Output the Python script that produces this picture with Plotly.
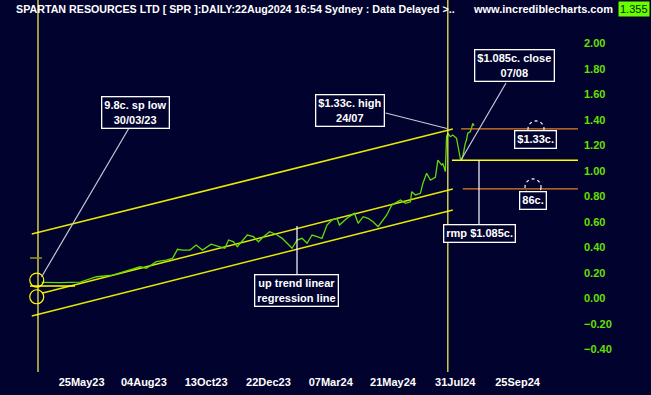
import plotly.graph_objects as go

# ---------------- data ----------------
# trading-bar index (0 = 30/03/23) and daily close (A$)
bar_index = [3, 18, 34, 47, 60, 74, 82, 87, 95, 103, 108, 112, 116, 122, 127, 132,
             139, 146, 150, 153, 157, 160, 168, 173, 177, 181, 186, 192, 196, 200,
             204, 208, 212, 216, 220, 224, 228, 232, 236, 240, 242, 248, 252, 254,
             257, 261, 265, 269, 273, 276, 280, 284, 288, 291, 295, 299, 300, 303,
             307, 309, 312, 315, 319, 321, 324, 325, 327, 328, 329, 331, 333, 336,
             337, 339, 340, 341, 343, 344, 345, 347, 348, 349, 350]
close = [0.127, 0.125, 0.129, 0.171, 0.184, 0.224, 0.249, 0.237, 0.289, 0.302, 0.315,
         0.386, 0.380, 0.380, 0.420, 0.380, 0.427, 0.406, 0.394, 0.459, 0.445, 0.406,
         0.498, 0.485, 0.445, 0.485, 0.524, 0.498, 0.472, 0.433, 0.394, 0.459, 0.472,
         0.433, 0.498, 0.485, 0.472, 0.576, 0.616, 0.629, 0.576, 0.629, 0.655, 0.668,
         0.590, 0.642, 0.629, 0.602, 0.563, 0.602, 0.655, 0.733, 0.759, 0.773, 0.747,
         0.759, 0.838, 0.812, 0.825, 0.904, 0.982, 0.929, 0.951, 1.086, 1.047, 1.060,
         0.995, 1.269, 1.296, 1.269, 1.282, 1.256, 1.204, 1.100, 1.086, 1.112, 1.217,
         1.243, 1.296, 1.308, 1.335, 1.374, 1.355]

tick_index = [35, 85, 135, 185, 235, 285, 335, 385]
tick_labels = ["25May23", "04Aug23", "13Oct23", "22Dec23", "07Mar24", "21May24", "31Jul24", "25Sep24"]
y_ticks = [-0.4, -0.2, 0.0, 0.2, 0.4, 0.6, 0.8, 1.0, 1.2, 1.4, 1.6, 1.8, 2.0]

# regression channel (bar index, value)
chan_x = [-5, 333]
chan_upper = [0.506, 1.329]
mid_x = [3, 333]
chan_mid = [0.041, 0.859]
chan_lower = [-0.137, 0.694]

sp_low = 0.098
high_level = 1.33
rmp_level = 1.085
support_level = 0.86
last_price = "1.355"
marker_bars = [0, 329]

# ---------------- layout helpers ----------------
W, H = 651, 395
PL, PR, PT, PB = 0, 578, 0, 372          # plot area in pixels
X0, X1 = -30.5, 433.5                      # bar index range
Y0, Y1 = -0.576, 2.341                     # value range


def px(x):
    return (x - PL) / (PR - PL)


def py(y):
    return (PB - y) / (PB - PT)


BG = "#02022e"
GREEN = "#66e000"
FONT = "Liberation Sans"

fig = go.Figure()

# channel lines
for xs, ys in [(chan_x, chan_upper), (mid_x, chan_mid), (chan_x, chan_lower)]:
    fig.add_trace(go.Scatter(x=xs, y=ys, mode="lines",
                             line=dict(color="#e8e800", width=1.5), hoverinfo="skip"))

# price
fig.add_trace(go.Scatter(x=bar_index, y=close, mode="lines",
                         line=dict(color="#62dc00", width=1.3), hoverinfo="skip"))

shapes = []
# vertical date markers (span whole height, incl. title strip)
for b in marker_bars:
    shapes.append(dict(type="line", xref="x", yref="paper", x0=b, x1=b, y0=0, y1=1.0,
                       line=dict(color="#ffff50", width=1.2)))
# horizontal levels
shapes.append(dict(type="line", xref="x", yref="y", x0=339.6, x1=X1, y0=high_level, y1=high_level,
                   line=dict(color="#e08020", width=1.3)))
shapes.append(dict(type="line", xref="x", yref="y", x0=332.3, x1=X1, y0=rmp_level, y1=rmp_level,
                   line=dict(color="#ffff00", width=1.5)))
shapes.append(dict(type="line", xref="x", yref="y", x0=341, x1=X1, y0=support_level, y1=support_level,
                   line=dict(color="#e08020", width=1.3)))
shapes.append(dict(type="line", xref="x", yref="y", x0=-6.4, x1=29.7, y0=sp_low, y1=sp_low,
                   line=dict(color="#ffff00", width=1.5)))
shapes.append(dict(type="line", xref="x", yref="y", x0=-6.4, x1=3.2, y0=0.318, y1=0.318,
                   line=dict(color="#9a9a20", width=1.5)))

# yellow circles at the low
for cy in [0.145, 0.014]:
    shapes.append(dict(type="circle", xref="x", yref="y", xsizemode="pixel", ysizemode="pixel",
                       xanchor=-1, yanchor=cy, x0=-7, x1=7, y0=-7, y1=7,
                       line=dict(color="#ffff00", width=1.2)))
# dashed white circles
for cx, cy in [(399.8, high_level), (397.4, 0.875)]:
    shapes.append(dict(type="circle", xref="x", yref="y", xsizemode="pixel", ysizemode="pixel",
                       xanchor=cx, yanchor=cy, x0=-8, x1=8, y0=-8, y1=8,
                       line=dict(color="#ffffff", width=1.2, dash="3px,3px")))

# leader lines (pixel positions converted to paper)
leaders = [((129, 128), (41.5, 277), "#c8c8d8"),
           ((385.7, 113), (447, 128.5), "#c8c8d8"),
           ((506, 83), (461, 160), "#c8c8d8"),
           ((479, 160), (479, 225), "#ffffff"),
           ((297, 226), (297, 274), "#ffffff")]
for (xa, ya), (xb, yb), col in leaders:
    shapes.append(dict(type="line", xref="paper", yref="paper",
                       x0=px(xa), y0=py(ya), x1=px(xb), y1=py(yb),
                       line=dict(color=col, width=1.2)))

annotations = []
boxes = [("9.8c. sp low<br>30/03/23", 135, 112.5),
         ("$1.33c. high<br>24/07", 350, 111),
         ("$1.085c. close<br>07/08", 514.5, 66),
         ("$1.33c.", 535, 139.5),
         ("86c.", 533, 200),
         ("rmp $1.085c.", 479.5, 233.5),
         ("up trend linear<br>regression line", 296.5, 290.5)]
for txt, cx, cy in boxes:
    annotations.append(dict(text=txt, xref="paper", yref="paper", x=px(cx), y=py(cy),
                            xanchor="center", yanchor="middle", showarrow=False,
                            font=dict(family=FONT, size=11, color="white", weight="bold"),
                            bgcolor=BG, bordercolor="white", borderwidth=1.3, borderpad=2,
                            align="center"))

# title strip texts
annotations.append(dict(text="SPARTAN RESOURCES LTD [ SPR ]:DAILY:22Aug2024 16:54 Sydney : Data Delayed >..",
                        xref="paper", yref="paper", x=px(14), y=py(9), xanchor="left", yanchor="middle",
                        showarrow=False, font=dict(family=FONT, size=10.7, color="white", weight="bold")))
annotations.append(dict(text="www.incrediblecharts.com", xref="paper", yref="paper",
                        x=px(615), y=py(9), xanchor="right", yanchor="middle", showarrow=False,
                        font=dict(family=FONT, size=11, color="white", weight="bold")))
annotations.append(dict(text=last_price, xref="paper", yref="paper", x=px(650), y=py(9.5),
                        xanchor="right", yanchor="middle", showarrow=False,
                        font=dict(family=FONT, size=11, color="#102000"),
                        bgcolor="#66ff00", borderpad=1))

fig.update_layout(
    width=W, height=H,
    margin=dict(l=PL, r=W - PR, t=PT, b=H - PB),
    paper_bgcolor=BG, plot_bgcolor=BG,
    showlegend=False,
    shapes=shapes, annotations=annotations,
    xaxis=dict(range=[X0, X1], tickmode="array", tickvals=tick_index, ticktext=tick_labels,
               showgrid=False, zeroline=False, showline=False, ticks="",
               tickfont=dict(family=FONT, size=11, color="white", weight="bold"),
               ticklabelstandoff=2),
    yaxis=dict(range=[Y0, Y1], side="right", tickmode="array", tickvals=y_ticks,
               tickformat=".2f", showgrid=False, zeroline=False, showline=False, ticks="",
               tickfont=dict(family=FONT, size=11, color=GREEN, weight="bold"),
               ticklabelstandoff=5),
)

fig.write_html("out.html", config={"displayModeBar": False},
               post_script="document.body.style.margin='0';document.body.style.padding='0';document.body.style.background='%s';" % BG)
